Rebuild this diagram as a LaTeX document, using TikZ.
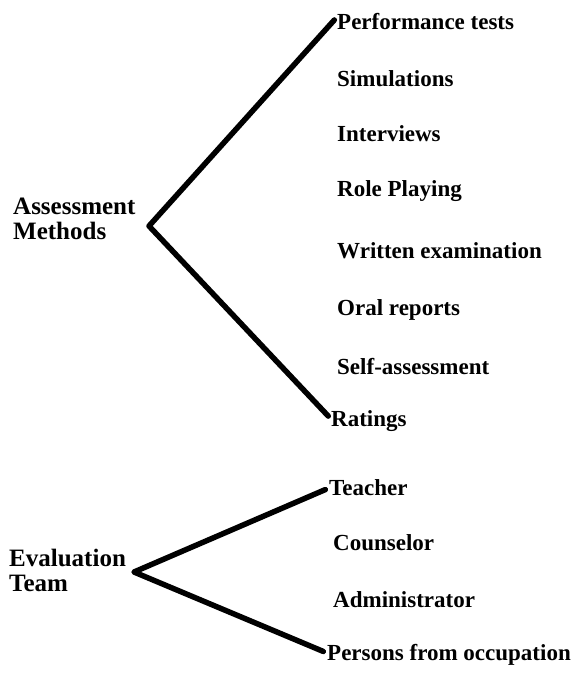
\documentclass[tikz,border=0pt]{standalone}
\usepackage{fontspec}
\setmainfont{Liberation Serif}
\begin{document}
\begin{tikzpicture}[x=1pt,y=-1pt,
  item/.style={anchor=west,inner sep=0pt,font=\bfseries\fontsize{23}{26}\selectfont},
  head/.style={anchor=west,inner sep=0pt,align=left,font=\bfseries\fontsize{25}{25}\selectfont},
  branch/.style={line width=5.5pt,line cap=round,line join=round,shorten <=4pt,shorten >=4pt}]
\useasboundingbox (0,0) rectangle (575,676);
\node[head] (am) at (13,219) {Assessment\\Methods};
\node[head] (et) at (9,570) {Evaluation\\Team};
\coordinate (v1) at (149,226);
\coordinate (v2) at (134,572);
\node[item] (i1) at (337,22) {Performance tests};
\node[item] (i2) at (337,79) {Simulations};
\node[item] (i3) at (337,134) {Interviews};
\node[item] (i4) at (337,191) {Role Playing};
\node[item] (i5) at (337,251) {Written examination};
\node[item] (i6) at (337,310) {Oral reports};
\node[item] (i7) at (337,367) {Self-assessment};
\node[item] (i8) at (331,421) {Ratings};
\node[item] (t1) at (329,488) {Teacher};
\node[item] (t2) at (333,543) {Counselor};
\node[item] (t3) at (333,600) {Administrator};
\node[item] (t4) at (327,655) {Persons from occupation};
\draw[branch] ([yshift=5pt]i1.west) -- (v1) -- ([yshift=2pt]i8.west);
\draw[branch] (t1.west) -- (v2) -- ([yshift=2pt]t4.west);
\end{tikzpicture}
\end{document}
